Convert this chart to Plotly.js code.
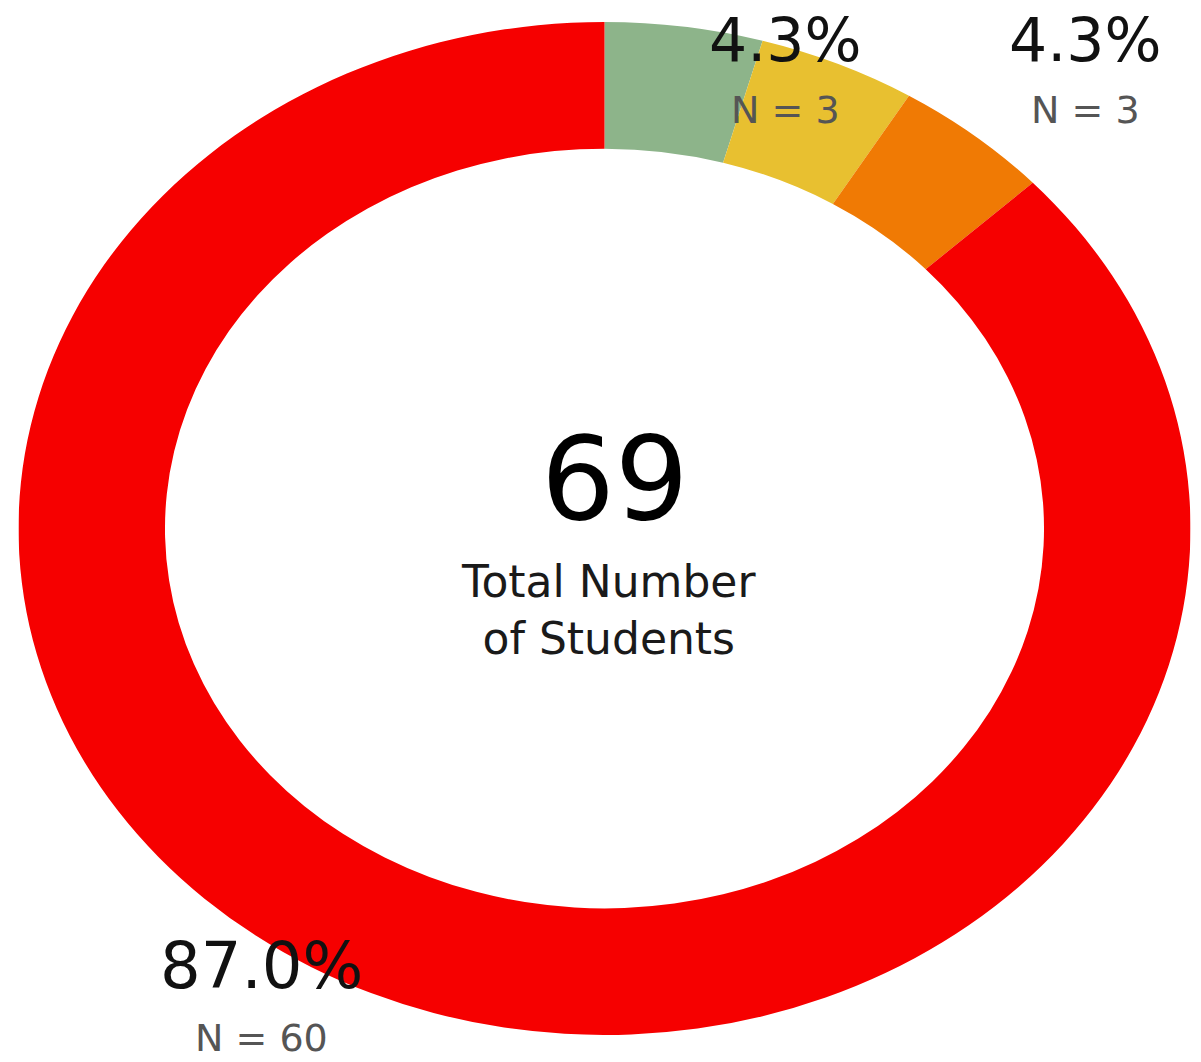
<!DOCTYPE html>
<html>
<head>
<meta charset="utf-8">
<script src="https://cdn.plot.ly/plotly-3.0.1.min.js"></script>
<style>
  html, body { margin: 0; padding: 0; background: #ffffff; }
  #wrap { position: relative; width: 1201px; height: 1062px; overflow: hidden; }
  #pie { position: absolute; left: 97.5px; top: 22px; width: 1013px; height: 1013px;
         transform: scaleX(1.157); transform-origin: 50% 50%; }
  #txt { position: absolute; left: 0; top: 0; width: 1201px; height: 1062px; }
</style>
</head>
<body>
<div id="wrap">
  <div id="pie"></div>
  <div id="txt"></div>
</div>
<script>
// ---- data ----
const categories = ["Group A", "Group B", "Group C", "Group D"];
const counts = [3, 3, 3, 60];
const centerLabel = "Total Number<br>of Students";

// ---- style ----
const sliceColors = ["#8DB48A", "#E8C030", "#F07A04", "#F60000"];
const FONT = "DejaVu Sans, Open Sans, sans-serif";

const total = counts.reduce((a, b) => a + b, 0);
const pct = counts.map(c => (c / total * 100).toFixed(1) + "%");
const nText = counts.map(c => "N = " + c);

Plotly.newPlot("pie", [{
  type: "pie",
  labels: categories,
  values: counts,
  hole: 0.75,
  sort: false,
  direction: "clockwise",
  rotation: 0,
  textinfo: "none",
  hoverinfo: "none",
  marker: { colors: sliceColors, line: { width: 0 } },
  domain: { x: [0, 1], y: [0, 1] }
}], {
  width: 1013, height: 1013,
  margin: { l: 0, r: 0, t: 0, b: 0 },
  showlegend: false,
  paper_bgcolor: "rgba(0,0,0,0)",
  plot_bgcolor: "rgba(0,0,0,0)"
}, { displayModeBar: false, staticPlot: true });

// label placements (pixel positions on the 1201x1062 page)
const W = 1201, H = 1062;
const px = x => x / W, py = y => 1 - y / H;
// [x, y of percent, y of N, percent size, N size]
const labelSpots = [null, [785, 40, 110, 60, 38], [1085, 40, 110, 60, 38], [261, 966, 1038, 64, 38]];

const ann = [];
labelSpots.forEach((s, i) => {
  if (!s) return;
  ann.push({ x: px(s[0]), y: py(s[1]), xref: "paper", yref: "paper", showarrow: false,
    xanchor: "center", yanchor: "middle", text: pct[i],
    font: { family: FONT, size: s[3], color: "#111111" } });
  ann.push({ x: px(s[0]), y: py(s[2]), xref: "paper", yref: "paper", showarrow: false,
    xanchor: "center", yanchor: "middle", text: nText[i],
    font: { family: FONT, size: s[4], color: "#555555" } });
});
ann.push({ x: px(615), y: py(478), xref: "paper", yref: "paper", showarrow: false,
  xanchor: "center", yanchor: "middle", text: String(total),
  font: { family: FONT, size: 116, color: "#000000" } });
ann.push({ x: px(608), y: py(610), xref: "paper", yref: "paper", showarrow: false,
  xanchor: "center", yanchor: "middle", text: centerLabel,
  font: { family: FONT, size: 44, color: "#1a1a1a" } });

Plotly.newPlot("txt", [], {
  width: W, height: H,
  margin: { l: 0, r: 0, t: 0, b: 0 },
  paper_bgcolor: "rgba(0,0,0,0)",
  plot_bgcolor: "rgba(0,0,0,0)",
  xaxis: { visible: false },
  yaxis: { visible: false },
  showlegend: false,
  annotations: ann
}, { displayModeBar: false, staticPlot: true });
</script>
</body>
</html>
